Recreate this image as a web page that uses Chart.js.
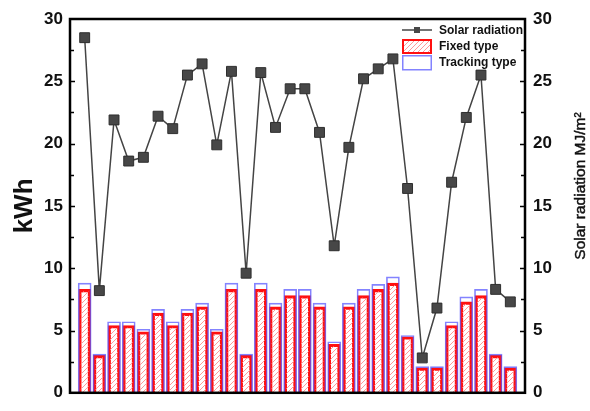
<!DOCTYPE html>
<html>
<head>
<meta charset="utf-8">
<script src="https://cdn.jsdelivr.net/npm/chart.js@4/dist/chart.umd.min.js"></script>
<style>
  html, body { margin: 0; padding: 0; background: #fff; }
  #wrap { width: 590px; height: 411px; }
</style>
</head>
<body>
<div id="wrap"><canvas id="chart" width="590" height="411"></canvas></div>
<script>
// ── Data ──────────────────────────────────────────────────────────────────────
const days     = [1,2,3,4,5,6,7,8,9,10,11,12,13,14,15,16,17,18,19,20,21,22,23,24,25,26,27,28,29,30];
const solar    = [28.5, 8.2, 21.9, 18.6, 18.9, 22.2, 21.2, 25.5, 26.4, 19.9,
                  25.8, 9.6, 25.7, 21.3, 24.4, 24.4, 20.9, 11.8, 19.7, 25.2,
                  26.0, 26.8, 16.4, 2.8, 6.8, 16.9, 22.1, 25.5, 8.3, 7.3];
const fixed    = [8.3, 3.0, 5.4, 5.4, 4.9, 6.4, 5.4, 6.4, 6.9, 4.9,
                  8.3, 3.0, 8.3, 6.9, 7.8, 7.8, 6.9, 3.9, 6.9, 7.8,
                  8.3, 8.8, 4.5, 2.0, 2.0, 5.4, 7.3, 7.8, 3.0, 2.0];
const tracking = [8.8, 3.1, 5.7, 5.7, 5.1, 6.7, 5.7, 6.7, 7.2, 5.1,
                  8.8, 3.1, 8.8, 7.2, 8.3, 8.3, 7.2, 4.1, 7.2, 8.3,
                  8.7, 9.3, 4.6, 2.1, 2.1, 5.7, 7.7, 8.3, 3.1, 2.1];
const yTicks   = [0, 5, 10, 15, 20, 25, 30];

// ── Styles ────────────────────────────────────────────────────────────────────
const FONT = "'Liberation Sans', Arial, sans-serif";
const LINE_C = "#444";
const RED = "#ff1010";
const BLUE = "rgba(90,90,255,0.75)";

function hatch() {
  const c = document.createElement("canvas");
  c.width = 5; c.height = 5;
  const g = c.getContext("2d");
  g.strokeStyle = "#ff9a9a";
  g.lineWidth = 1;
  g.beginPath();
  g.moveTo(-1, 6); g.lineTo(6, -1);
  g.moveTo(-1, 1); g.lineTo(1, -1);
  g.moveTo(4, 6); g.lineTo(6, 4);
  g.stroke();
  return document.getElementById("chart").getContext("2d").createPattern(c, "repeat");
}
const HATCH = hatch();

const pts = arr => arr.map((v, i) => ({ x: days[i], y: v }));

// ── Plugins: frame, inward ticks, right title, legend ─────────────────────────
const decor = {
  id: "decor",
  afterDraw(chart) {
    const { ctx, chartArea: a, scales } = chart;
    ctx.save();
    // inward ticks
    ctx.strokeStyle = "#000";
    ctx.lineWidth = 1.5;
    for (let v = 2.5; v < 30; v += 2.5) {
      const len = v % 5 === 0 ? 5 : 4;
      const y = Math.round(scales.y.getPixelForValue(v)) + 0.5;
      ctx.beginPath();
      ctx.moveTo(a.left, y); ctx.lineTo(a.left + len, y);
      ctx.moveTo(a.right, y); ctx.lineTo(a.right - len, y);
      ctx.stroke();
    }
    // frame
    ctx.lineWidth = 2.5;
    ctx.strokeRect(a.left, a.top, a.right - a.left, a.bottom - a.top);

    // right axis title
    ctx.save();
    ctx.translate(580.5, 186);
    ctx.rotate(-Math.PI / 2);
    ctx.fillStyle = "#111";
    ctx.strokeStyle = "#111";
    ctx.lineWidth = 0.45;
    ctx.font = "15.5px " + FONT;
    ctx.textAlign = "center";
    ctx.textBaseline = "middle";
    ctx.fillText("Solar radiation MJ/m²", 0, 0);
    ctx.strokeText("Solar radiation MJ/m²", 0, 0);
    ctx.restore();

    // legend
    const ds = chart.data.datasets;
    const lx = 402, lw = 30, tx = 439;
    ctx.font = "bold 12px " + FONT;
    ctx.fillStyle = "#111";
    ctx.textBaseline = "middle";
    ctx.textAlign = "left";
    // solar radiation
    ctx.strokeStyle = LINE_C; ctx.lineWidth = 1.5;
    ctx.beginPath(); ctx.moveTo(lx, 30); ctx.lineTo(lx + lw, 30); ctx.stroke();
    ctx.fillStyle = "#474747";
    ctx.fillRect(lx + lw / 2 - 3, 27, 6, 6);
    ctx.fillStyle = "#111";
    ctx.fillText(ds[0].label, tx, 31);
    // fixed
    ctx.fillStyle = HATCH;
    ctx.fillRect(lx, 39, lw, 14);
    ctx.strokeStyle = RED; ctx.lineWidth = 2;
    ctx.strokeRect(lx + 1, 40, lw - 2, 13);
    ctx.fillStyle = "#111";
    ctx.fillText(ds[2].label, tx, 47);
    // tracking
    ctx.strokeStyle = BLUE; ctx.lineWidth = 1.5;
    ctx.strokeRect(lx + 0.75, 55.75, lw - 1.5, 14);
    ctx.fillText(ds[1].label, tx, 63);
    ctx.restore();
  }
};

// ── Chart ─────────────────────────────────────────────────────────────────────
const tickFont = { family: FONT, size: 17, weight: "bold" };

new Chart(document.getElementById("chart"), {
  type: "bar",
  data: {
    datasets: [
      {
        type: "line",
        label: "Solar radiation",
        data: pts(solar),
        yAxisID: "y1",
        order: 0,
        borderColor: LINE_C,
        borderWidth: 1.5,
        pointStyle: "rect",
        pointRadius: 7,
        pointBackgroundColor: "#474747",
        pointBorderColor: "#2e2e2e",
        pointBorderWidth: 1,
        tension: 0,
      },
      {
        label: "Tracking type",
        data: pts(tracking),
        yAxisID: "y",
        order: 1,
        backgroundColor: "rgba(255,255,255,0)",
        borderColor: BLUE,
        borderWidth: 1,
        barThickness: 13,
      },
      {
        label: "Fixed type",
        data: pts(fixed),
        yAxisID: "y",
        order: 2,
        backgroundColor: HATCH,
        borderColor: RED,
        borderWidth: 2.5,
        barThickness: 12,
      },
    ],
  },
  options: {
    responsive: false,
    animation: false,
    layout: { padding: { top: 19, bottom: 9, left: 0, right: 0 } },
    datasets: { bar: { grouped: false } },
    plugins: { legend: { display: false }, tooltip: { enabled: false } },
    scales: {
      x: {
        type: "linear",
        min: 0,
        max: 31,
        offset: false,
        display: false,
      },
      y: {
        position: "left",
        min: 0,
        max: 30,
        afterBuildTicks: s => { s.ticks = yTicks.map(v => ({ value: v })); },
        afterFit: s => { s.width = 70; },
        grid: { display: false, drawTicks: false },
        border: { display: false },
        ticks: { font: tickFont, color: "#111", padding: 7 },
        title: {
          display: true,
          text: "kWh",
          color: "#111",
          font: { family: FONT, size: 26, weight: "bold" },
          padding: { top: 9, bottom: 0 },
        },
      },
      y1: {
        position: "right",
        min: 0,
        max: 30,
        afterBuildTicks: s => { s.ticks = yTicks.map(v => ({ value: v })); },
        afterFit: s => { s.width = 65; },
        grid: { display: false, drawTicks: false },
        border: { display: false },
        ticks: { font: tickFont, color: "#111", padding: 8 },
      },
    },
  },
  plugins: [decor],
});
</script>
</body>
</html>
